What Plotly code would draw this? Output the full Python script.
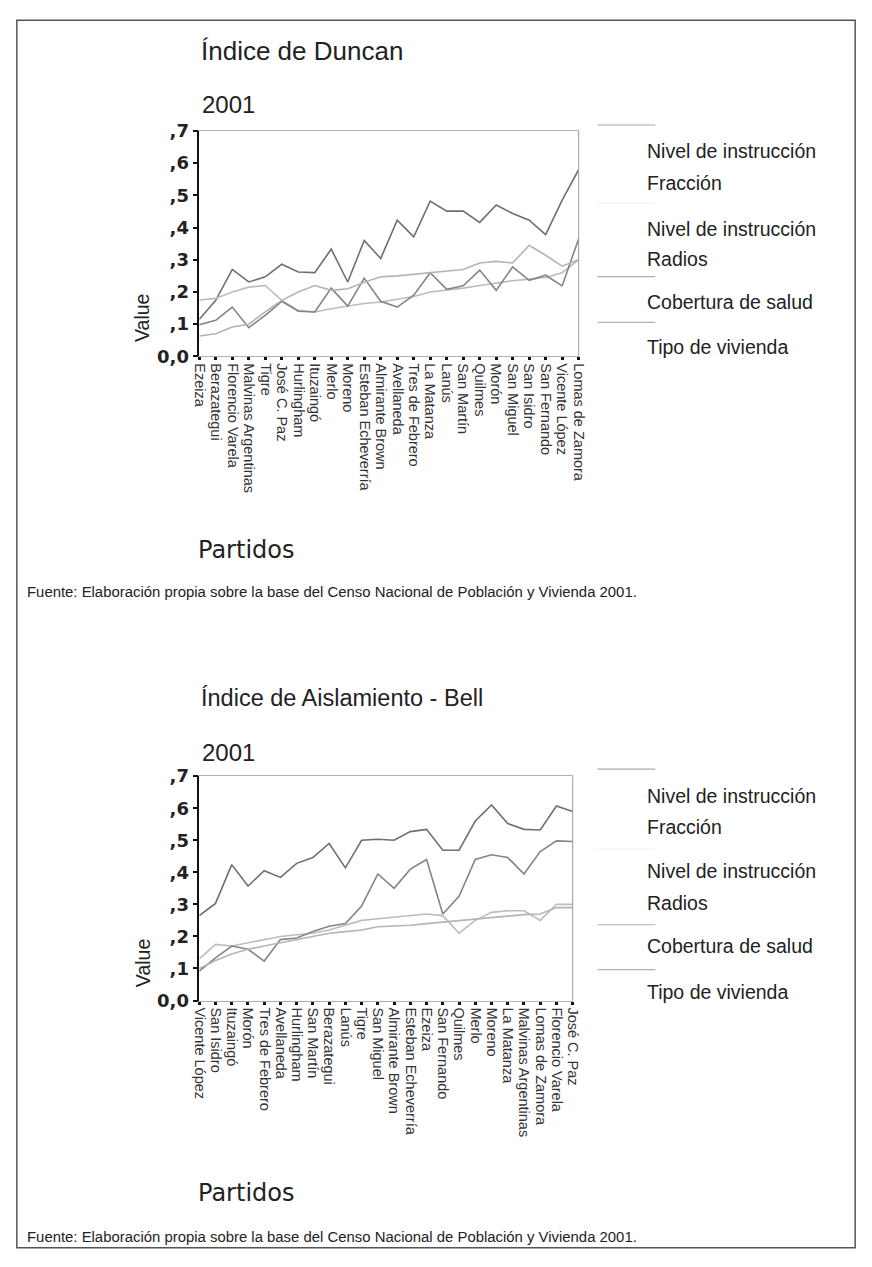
import plotly.graph_objects as go

# figure size (the page adds the browser's default 8px body margin)
PAGE_W, PAGE_H = 872, 1267
MARG = 8
W, H = PAGE_W - 2 * MARG, PAGE_H - 2 * MARG
# measured page -> photo mapping of the viewer (slight shrink of the page)
SX, OX = 0.9855, 5.06
SY, OY = 0.986, 7.8

# ---------------- data ----------------
partidos_duncan = ["Ezeiza", "Berazategui", "Florencio Varela", "Malvinas Argentinas", "Tigre",
                   "José C. Paz", "Hurlingham", "Ituzaingó", "Merlo", "Moreno",
                   "Esteban Echeverría", "Almirante Brown", "Avellaneda", "Tres de Febrero",
                   "La Matanza", "Lanús", "San Martín", "Quilmes", "Morón", "San Miguel",
                   "San Isidro", "San Fernando", "Vicente López", "Lomas de Zamora"]

duncan_fraccion = [0.115, 0.174, 0.27, 0.231, 0.247, 0.286, 0.262, 0.26, 0.333, 0.231, 0.36, 0.304,
                   0.423, 0.371, 0.482, 0.451, 0.451, 0.416, 0.47, 0.444, 0.423, 0.378, 0.485, 0.58]
duncan_radios = [0.175, 0.18, 0.2, 0.215, 0.22, 0.174, 0.143, 0.138, 0.148, 0.156, 0.164, 0.169,
                 0.178, 0.186, 0.2, 0.205, 0.212, 0.22, 0.228, 0.235, 0.24, 0.245, 0.26, 0.3]
duncan_salud = [0.098, 0.112, 0.153, 0.089, 0.127, 0.171, 0.14, 0.138, 0.212, 0.156, 0.243, 0.171,
                0.153, 0.19, 0.26, 0.208, 0.219, 0.268, 0.205, 0.278, 0.236, 0.252, 0.219, 0.365]
duncan_vivienda = [0.063, 0.07, 0.091, 0.1, 0.138, 0.174, 0.2, 0.22, 0.205, 0.21, 0.23, 0.247,
                   0.25, 0.255, 0.26, 0.265, 0.27, 0.29, 0.295, 0.29, 0.345, 0.314, 0.28, 0.3]

partidos_bell = ["Vicente López", "San Isidro", "Ituzaingó", "Morón", "Tres de Febrero",
                 "Avellaneda", "Hurlingham", "San Martín", "Berazategui", "Lanús", "Tigre",
                 "San Miguel", "Almirante Brown", "Esteban Echeverría", "Ezeiza", "San Fernando",
                 "Quilmes", "Merlo", "Moreno", "La Matanza", "Malvinas Argentinas",
                 "Lomas de Zamora", "Florencio Varela", "José C. Paz"]

bell_fraccion = [0.265, 0.303, 0.424, 0.357, 0.405, 0.384, 0.428, 0.446, 0.49, 0.414, 0.5, 0.503,
                 0.5, 0.527, 0.534, 0.469, 0.469, 0.56, 0.61, 0.552, 0.534, 0.532, 0.607, 0.59]
bell_radios = [0.13, 0.175, 0.17, 0.18, 0.19, 0.2, 0.205, 0.21, 0.22, 0.235, 0.25, 0.255,
               0.26, 0.265, 0.27, 0.265, 0.21, 0.25, 0.275, 0.28, 0.28, 0.25, 0.3, 0.3]
bell_salud = [0.092, 0.133, 0.17, 0.16, 0.123, 0.19, 0.195, 0.215, 0.232, 0.24, 0.295, 0.395,
              0.35, 0.41, 0.44, 0.27, 0.325, 0.44, 0.455, 0.446, 0.395, 0.465, 0.498, 0.496]
bell_vivienda = [0.1, 0.125, 0.145, 0.16, 0.17, 0.18, 0.19, 0.2, 0.21, 0.215, 0.22, 0.23,
                 0.232, 0.235, 0.24, 0.245, 0.25, 0.255, 0.26, 0.265, 0.268, 0.27, 0.29, 0.29]

series_names = ["Nivel de instrucción Fracción", "Nivel de instrucción Radios",
                "Cobertura de salud", "Tipo de vivienda"]
series_colors = ["#6f6f6f", "#bcbcbc", "#858585", "#b4b4b4"]

legend_texts = ["Nivel de instrucción", "Fracción", "Nivel de instrucción", "Radios",
                "Cobertura de salud", "Tipo de vivienda"]

y_ticks = [0, 0.1, 0.2, 0.3, 0.4, 0.5, 0.6, 0.7]
y_ticktext = ["0,0", ",1", ",2", ",3", ",4", ",5", ",6", ",7"]

FONT = "Liberation Sans, Arial, sans-serif"
WIDE = "DejaVu Sans, Verdana, sans-serif"


def px(x):
    """target photo pixel x -> paper fraction"""
    return ((x - OX) / SX - MARG) / W


def py(y):
    """target photo pixel y -> paper fraction"""
    return 1 - ((y - OY) / SY - MARG) / H


fig = go.Figure()

charts = [
    dict(xa="x", ya="y", cats=partidos_duncan,
         data=[duncan_fraccion, duncan_radios, duncan_salud, duncan_vivienda],
         x0=197, x1=578, y0=128, y1=354, title="Índice de Duncan", title_size=26, title_y=48,
         year_y=101, value_y=316, partidos_y=548, fuente_y=590,
         leg_y=[148, 180, 226, 256, 299, 345], leg_lines=[122, 200, 274, 320]),
    dict(xa="x2", ya="y2", cats=partidos_bell,
         data=[bell_fraccion, bell_radios, bell_salud, bell_vivienda],
         x0=197, x1=572, y0=775, y1=1000, title="Índice de Aislamiento - Bell", title_size=23.5,
         title_y=697, year_y=751, value_y=963, partidos_y=1193, fuente_y=1237,
         leg_y=[795, 826, 870, 902, 945, 991], leg_lines=[768, 848, 924, 969]),
]

annotations = []
shapes = []

for ci, ch in enumerate(charts):
    for si, vals in enumerate(ch["data"]):
        fig.add_trace(go.Scatter(x=ch["cats"], y=vals, mode="lines", name=series_names[si],
                                 line=dict(color=series_colors[si], width=1.6),
                                 xaxis=ch["xa"], yaxis=ch["ya"], showlegend=False))
    axname = "" if ci == 0 else "2"
    fig.update_layout(**{
        "xaxis" + axname: dict(
            domain=[px(ch["x0"]), px(ch["x1"])], anchor=ch["ya"],
            range=[0, len(ch["cats"]) - 1], type="category",
            tickmode="array", tickvals=ch["cats"], ticktext=ch["cats"],
            showline=True, linecolor="#b0b0b0", linewidth=1, mirror=True,
            showgrid=False, zeroline=False,
            ticks="outside", ticklen=3, tickwidth=3, tickcolor="#111",
            tickangle=90, tickfont=dict(family=FONT, size=14.5, color="#333"),
        ),
        "yaxis" + axname: dict(
            domain=[py(ch["y1"]), py(ch["y0"])], anchor=ch["xa"],
            range=[0, 0.7], showgrid=False, zeroline=False,
            showline=True, linecolor="#111", linewidth=1.5,
            ticks="outside", ticklen=5, tickwidth=2, tickcolor="#111",
            tickvals=y_ticks, ticktext=y_ticktext,
            tickfont=dict(family=WIDE, size=18, color="#222", weight="bold"),
        ),
    })
    # right border of the plot box
    shapes.append(dict(type="line", xref=ch["xa"] + " domain", yref=ch["ya"] + " domain",
                       x0=1, x1=1, y0=0, y1=1, line=dict(color="#9a9a9a", width=1)))
    # titles and labels
    annotations.append(dict(text=ch["title"], x=px(197), y=py(ch["title_y"]), xref="paper",
                            yref="paper", xanchor="left", yanchor="middle", showarrow=False,
                            font=dict(family=FONT, size=ch["title_size"], color="#222")))
    annotations.append(dict(text="2001", x=px(198), y=py(ch["year_y"]), xref="paper",
                            yref="paper", xanchor="left", yanchor="middle", showarrow=False,
                            font=dict(family=FONT, size=24, color="#222")))
    annotations.append(dict(text="Value", x=px(140), y=py(ch["value_y"]), xref="paper",
                            yref="paper", xanchor="center", yanchor="middle", showarrow=False,
                            textangle=-90, font=dict(family=FONT, size=19.5, color="#222")))
    annotations.append(dict(text="Partidos", x=px(194), y=py(ch["partidos_y"]), xref="paper",
                            yref="paper", xanchor="left", yanchor="middle", showarrow=False,
                            font=dict(family=WIDE, size=24, color="#222")))
    annotations.append(dict(
        text="Fuente: Elaboración propia sobre la base del Censo Nacional de Población y Vivienda 2001.",
        x=px(22), y=py(ch["fuente_y"]), xref="paper", yref="paper", xanchor="left",
        yanchor="middle", showarrow=False, font=dict(family=FONT, size=14.9, color="#222")))
    # legend (drawn as text + sample lines, as in the original)
    for t, yy in zip(legend_texts, ch["leg_y"]):
        annotations.append(dict(text=t, x=px(645), y=py(yy), xref="paper", yref="paper",
                                xanchor="left", yanchor="middle", showarrow=False,
                                font=dict(family=FONT, size=19.5, color="#222")))
    leg_cols = ["#a8a8a8", "#f2f2f2", "#b0b0b0", "#b0b0b0"]
    for c, yy in zip(leg_cols, ch["leg_lines"]):
        shapes.append(dict(type="line", xref="paper", yref="paper", x0=px(597), x1=px(655),
                           y0=py(yy), y1=py(yy), line=dict(color=c, width=1.2)))

# page frame
shapes.append(dict(type="rect", xref="paper", yref="paper", x0=0.001, x1=0.999,
                   y0=0.001, y1=0.999, line=dict(color="#555", width=1.5)))

fig.update_layout(width=W, height=H, margin=dict(l=0, r=0, t=0, b=0),
                  paper_bgcolor="white", plot_bgcolor="white",
                  annotations=annotations, shapes=shapes, showlegend=False)

fig.write_html("out.html", config={"displayModeBar": False})
